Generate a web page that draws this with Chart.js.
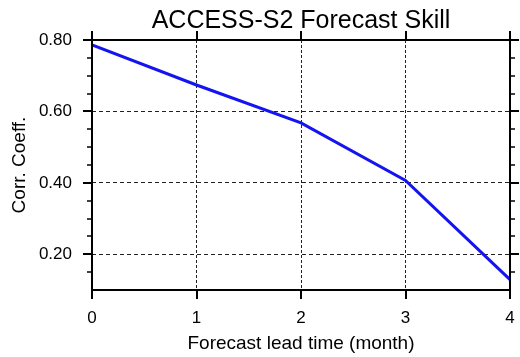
<!DOCTYPE html>
<html>
<head>
<meta charset="utf-8">
<script src="https://cdn.jsdelivr.net/npm/chart.js@4/dist/chart.umd.min.js"></script>
<style>
html,body{margin:0;padding:0;background:#fff;}
canvas{display:block;}
</style>
</head>
<body>
<canvas id="c" width="520" height="357"></canvas>
<script>
const leadTimes = [0, 1, 2, 3, 4];
const corrCoeff = [0.786, 0.674, 0.568, 0.407, 0.129];
const xTickValues = [0, 1, 2, 3, 4];
const yTickValues = [0.2, 0.4, 0.6, 0.8];
const yMinorTicks = [0.15, 0.25, 0.3, 0.35, 0.45, 0.5, 0.55, 0.65, 0.7, 0.75];
const titleText = 'ACCESS-S2 Forecast Skill';
const xTitle = 'Forecast lead time (month)';
const yTitle = 'Corr. Coeff.';

const FONT = "'Liberation Sans', Arial, Helvetica, sans-serif";

const frameTicks = {
  id: 'frameTicks',
  afterDatasetsDraw(chart) {
    const {ctx, chartArea: a, scales: {x, y}} = chart;
    ctx.save();
    ctx.strokeStyle = '#000';
    const line = (x1, y1, x2, y2) => { ctx.beginPath(); ctx.moveTo(x1, y1); ctx.lineTo(x2, y2); ctx.stroke(); };
    ctx.lineWidth = 2;
    xTickValues.forEach(v => {
      const px = Math.round(x.getPixelForValue(v));
      line(px, a.bottom, px, a.bottom + 9);
      line(px, a.top, px, a.top - 9);
    });
    yTickValues.forEach(v => {
      const py = Math.round(y.getPixelForValue(v));
      line(a.left - 9, py, a.left, py);
      line(a.right, py, a.right + 9, py);
    });
    ctx.lineWidth = 1.5;
    yMinorTicks.forEach(v => {
      const py = Math.round(y.getPixelForValue(v));
      line(a.left - 5, py, a.left, py);
      line(a.right, py, a.right + 5, py);
    });
    ctx.lineWidth = 2;
    ctx.strokeRect(Math.round(a.left), Math.round(a.top), Math.round(a.right) - Math.round(a.left), Math.round(a.bottom) - Math.round(a.top));
    ctx.restore();
  }
};

new Chart(document.getElementById('c'), {
  type: 'line',
  data: {
    datasets: [{
      data: leadTimes.map((t, i) => ({x: t, y: corrCoeff[i]})),
      borderColor: 'rgb(20,20,240)',
      borderWidth: 3,
      pointRadius: 0,
      tension: 0,
      fill: false
    }]
  },
  options: {
    responsive: false,
    animation: false,
    layout: {padding: {left: 0, right: 10, top: 0, bottom: 0}},
    plugins: {
      legend: {display: false},
      tooltip: {enabled: false},
      title: {
        display: true,
        text: titleText,
        fullSize: false,
        color: '#000',
        font: {family: FONT, size: 25, weight: 'normal', lineHeight: 1.2},
        padding: {top: 6, bottom: 4}
      }
    },
    scales: {
      x: {
        type: 'linear',
        min: 0, max: 4,
        afterBuildTicks: s => { s.ticks = xTickValues.map(v => ({value: v})); },
        afterFit: s => { s.height = 67; s.paddingLeft = 5; s.paddingRight = 5; },
        ticks: {
          color: '#000',
          font: {family: FONT, size: 17},
          padding: 18,
          maxRotation: 0,
          callback: v => String(v)
        },
        grid: {color: '#222', lineWidth: 1, drawTicks: false},
        border: {display: false, dash: [3, 2]},
        title: {
          display: true, text: xTitle, color: '#000',
          font: {family: FONT, size: 19},
          padding: {top: 0, bottom: 2}
        }
      },
      y: {
        type: 'linear',
        min: 0.1, max: 0.8,
        afterBuildTicks: s => { s.ticks = yTickValues.map(v => ({value: v})); },
        afterFit: s => { s.width = 92; s.paddingTop = 0; s.paddingBottom = 0; },
        ticks: {
          color: '#000',
          font: {family: FONT, size: 17},
          padding: 20,
          callback: v => Number(v).toFixed(2)
        },
        grid: {color: '#222', lineWidth: 1, drawTicks: false},
        border: {display: false, dash: [4, 3]},
        title: {
          display: true, text: yTitle, color: '#000',
          font: {family: FONT, size: 19},
          padding: {top: 8, bottom: 0}
        }
      }
    }
  },
  plugins: [frameTicks]
});
</script>
</body>
</html>
